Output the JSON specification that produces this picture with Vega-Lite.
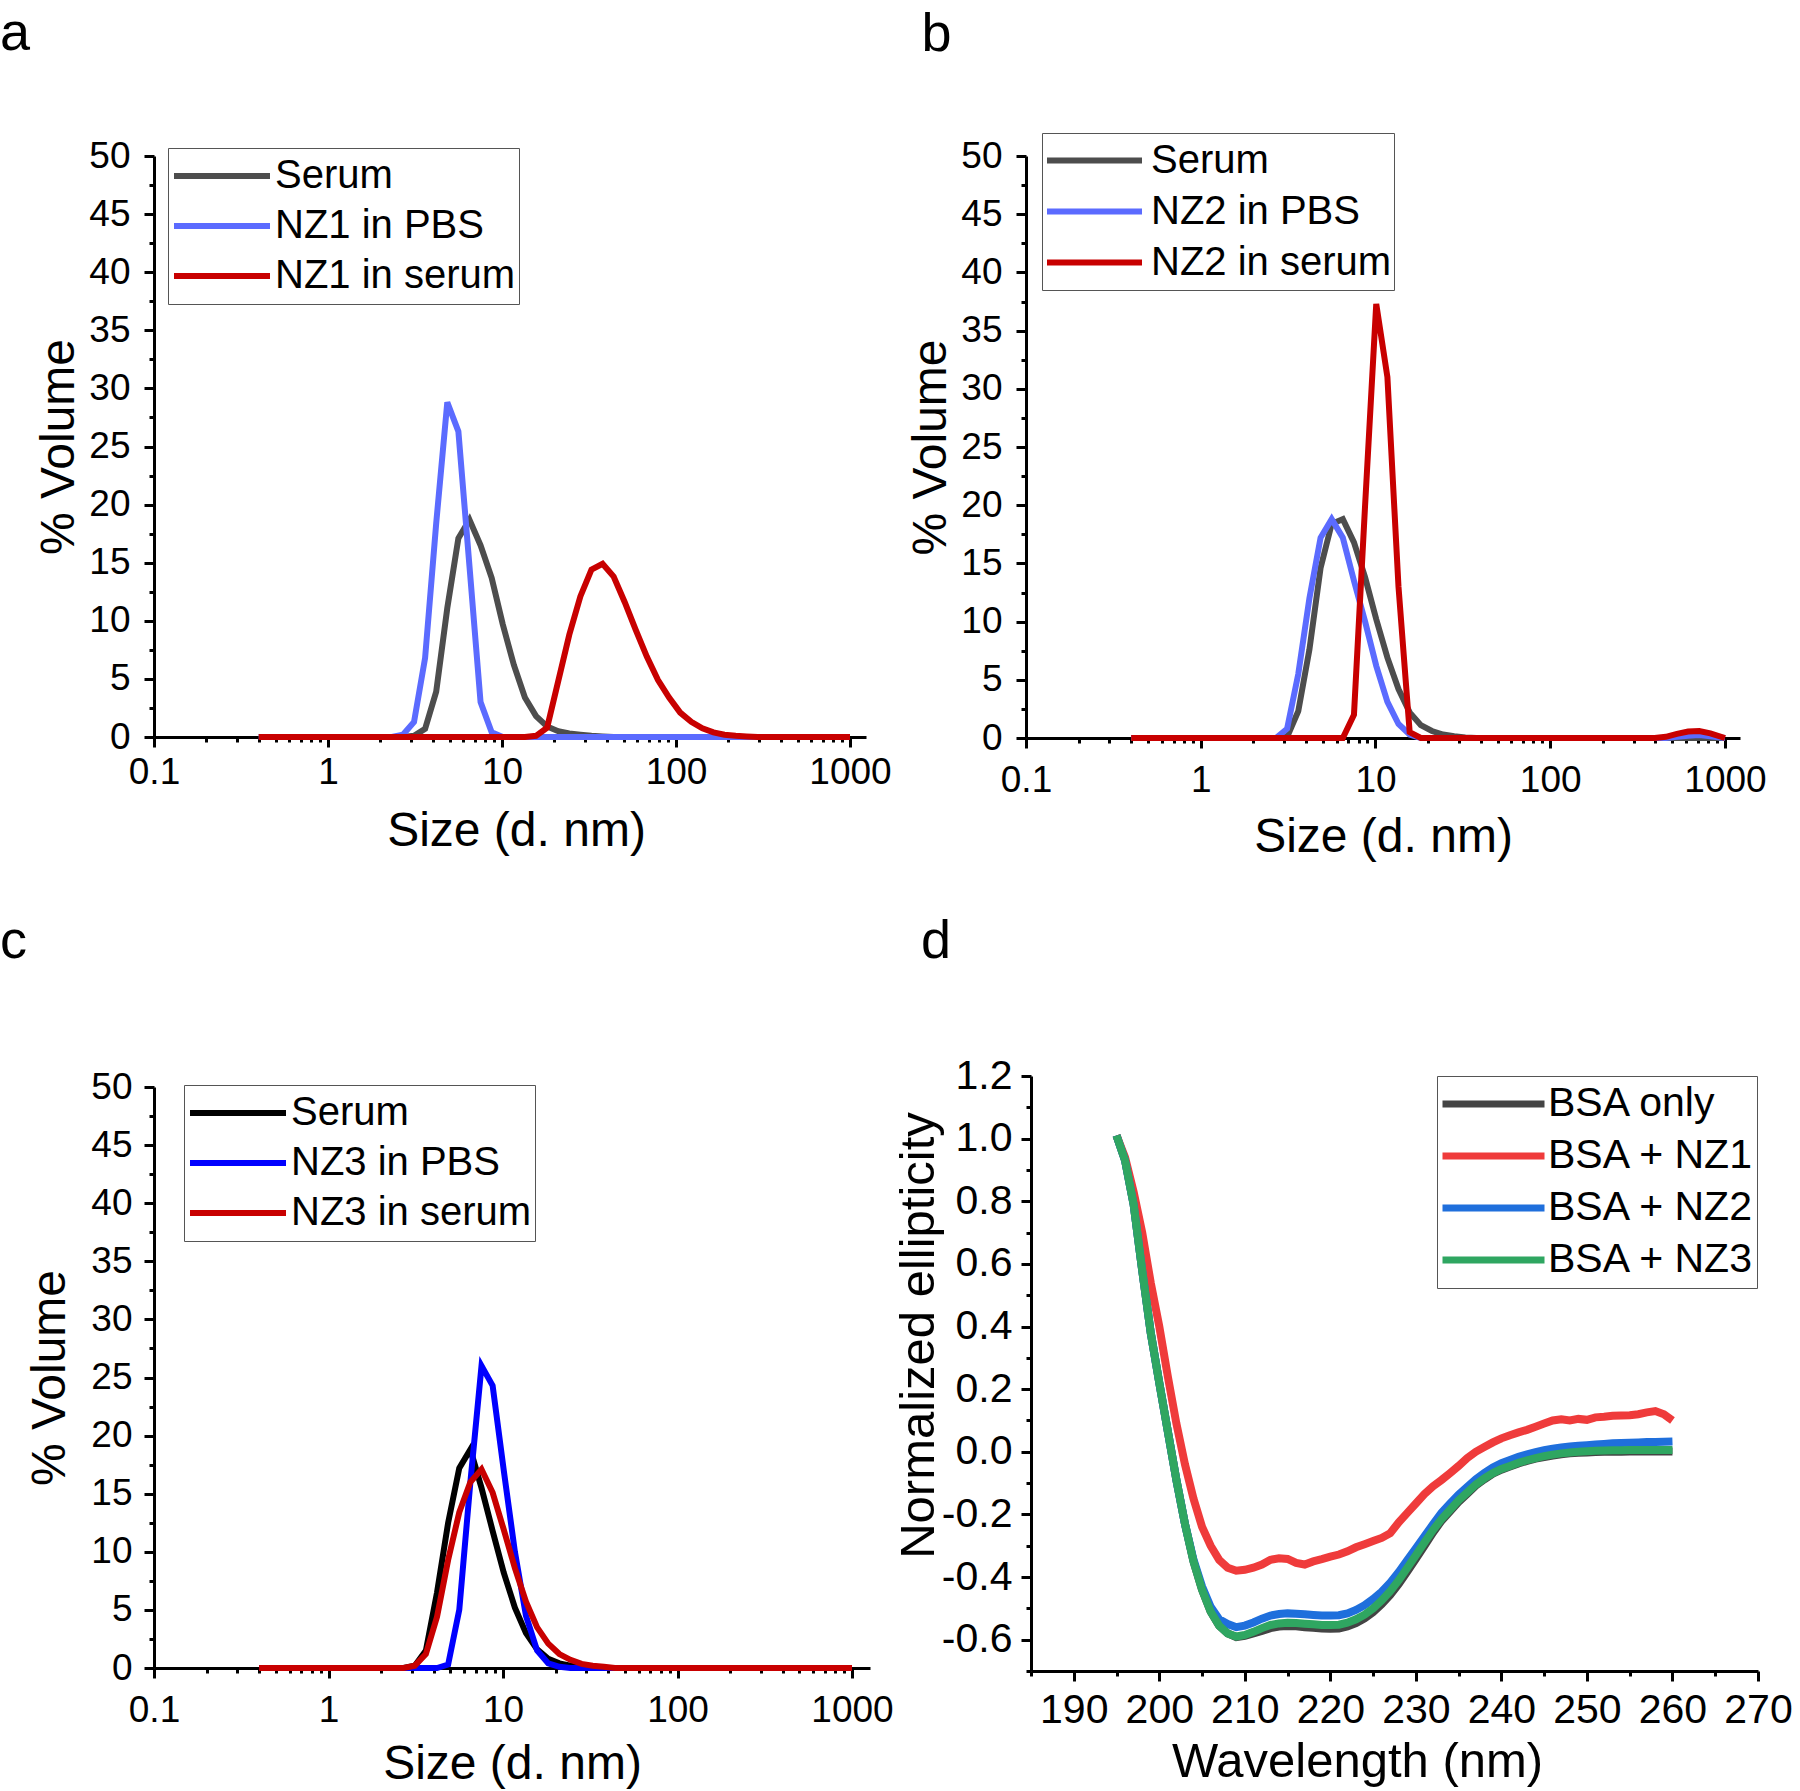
{
  "$schema": "https://vega.github.io/schema/vega-lite/v6.json",
  "padding": {"top": 7, "left": 0, "right": 0, "bottom": 0},
  "background": "white",
  "columns": 2,
  "spacing": {"row": 338, "column": 153},
  "bounds": "flush",
  "align": "none",
  "resolve": {"scale": {"color": "independent", "x": "independent", "y": "independent"}, "legend": {"color": "independent"}},
  "config": {
    "font": "Liberation Sans",
    "view": {"stroke": null},
    "axis": {"domainColor": "black", "domainWidth": 3, "tickColor": "black", "tickWidth": 3, "labelColor": "black", "titleColor": "black", "labelFont": "Liberation Sans", "titleFont": "Liberation Sans", "titleFontWeight": "normal", "labelFlush": false, "labelOverlap": false, "grid": false},
    "legend": {"labelFont": "Liberation Sans", "labelColor": "black", "strokeColor": "#555555", "fillColor": "white", "symbolType": "stroke", "direction": "vertical", "orient": "none", "rowPadding": 0, "labelLimit": 500, "title": null},
    "title": {"font": "Liberation Sans", "fontWeight": "normal", "color": "black", "fontSize": 54, "anchor": "start", "frame": "group", "baseline": "alphabetic"}
  },
  "datasets": {
    "a": [
      {"x":0.4,"y":0,"s":"Serum"},{"x":2.696,"y":0,"s":"Serum"},{"x":3.122,"y":0.1,"s":"Serum"},{"x":3.615,"y":0.7,"s":"Serum"},{"x":4.187,"y":3.9,"s":"Serum"},{"x":4.849,"y":11.1,"s":"Serum"},{"x":5.615,"y":17.1,"s":"Serum"},{"x":6.503,"y":18.7,"s":"Serum"},{"x":7.531,"y":16.5,"s":"Serum"},{"x":8.721,"y":13.7,"s":"Serum"},{"x":10.1,"y":9.7,"s":"Serum"},{"x":11.7,"y":6.2,"s":"Serum"},{"x":13.54,"y":3.4,"s":"Serum"},{"x":15.69,"y":1.8,"s":"Serum"},{"x":18.17,"y":0.9,"s":"Serum"},{"x":21.04,"y":0.5,"s":"Serum"},{"x":24.36,"y":0.3,"s":"Serum"},{"x":28.21,"y":0.2,"s":"Serum"},{"x":32.67,"y":0.1,"s":"Serum"},{"x":37.84,"y":0.05,"s":"Serum"},{"x":43.82,"y":0,"s":"Serum"},{"x":1000,"y":0,"s":"Serum"},
      {"x":0.4,"y":0,"s":"NZ1 in PBS"},{"x":2.328,"y":0,"s":"NZ1 in PBS"},{"x":2.696,"y":0.2,"s":"NZ1 in PBS"},{"x":3.122,"y":1.3,"s":"NZ1 in PBS"},{"x":3.615,"y":6.8,"s":"NZ1 in PBS"},{"x":4.187,"y":18.4,"s":"NZ1 in PBS"},{"x":4.849,"y":28.8,"s":"NZ1 in PBS"},{"x":5.615,"y":26.3,"s":"NZ1 in PBS"},{"x":6.503,"y":14.7,"s":"NZ1 in PBS"},{"x":7.531,"y":3.0,"s":"NZ1 in PBS"},{"x":8.721,"y":0.4,"s":"NZ1 in PBS"},{"x":10.1,"y":0,"s":"NZ1 in PBS"},{"x":1000,"y":0,"s":"NZ1 in PBS"},
      {"x":0.4,"y":0,"s":"NZ1 in serum"},{"x":13.54,"y":0,"s":"NZ1 in serum"},{"x":15.69,"y":0.1,"s":"NZ1 in serum"},{"x":18.17,"y":0.8,"s":"NZ1 in serum"},{"x":21.04,"y":4.8,"s":"NZ1 in serum"},{"x":24.36,"y":8.8,"s":"NZ1 in serum"},{"x":28.21,"y":12.1,"s":"NZ1 in serum"},{"x":32.67,"y":14.4,"s":"NZ1 in serum"},{"x":37.84,"y":14.9,"s":"NZ1 in serum"},{"x":43.82,"y":13.8,"s":"NZ1 in serum"},{"x":50.75,"y":11.6,"s":"NZ1 in serum"},{"x":58.77,"y":9.2,"s":"NZ1 in serum"},{"x":68.06,"y":6.9,"s":"NZ1 in serum"},{"x":78.82,"y":4.9,"s":"NZ1 in serum"},{"x":91.28,"y":3.4,"s":"NZ1 in serum"},{"x":105.7,"y":2.1,"s":"NZ1 in serum"},{"x":122.4,"y":1.3,"s":"NZ1 in serum"},{"x":141.8,"y":0.75,"s":"NZ1 in serum"},{"x":164.2,"y":0.4,"s":"NZ1 in serum"},{"x":190.1,"y":0.2,"s":"NZ1 in serum"},{"x":220.2,"y":0.1,"s":"NZ1 in serum"},{"x":255,"y":0.05,"s":"NZ1 in serum"},{"x":295.3,"y":0,"s":"NZ1 in serum"},{"x":1000,"y":0,"s":"NZ1 in serum"}
    ],
    "b": [
      {"x":0.4,"y":0,"s":"Serum"},{"x":2.696,"y":0,"s":"Serum"},{"x":3.122,"y":0.1,"s":"Serum"},{"x":3.615,"y":2.3,"s":"Serum"},{"x":4.187,"y":7.6,"s":"Serum"},{"x":4.849,"y":14.6,"s":"Serum"},{"x":5.615,"y":18.4,"s":"Serum"},{"x":6.503,"y":18.8,"s":"Serum"},{"x":7.531,"y":16.8,"s":"Serum"},{"x":8.721,"y":13.8,"s":"Serum"},{"x":10.1,"y":10.2,"s":"Serum"},{"x":11.7,"y":6.9,"s":"Serum"},{"x":13.54,"y":4.2,"s":"Serum"},{"x":15.69,"y":2.2,"s":"Serum"},{"x":18.17,"y":1.1,"s":"Serum"},{"x":21.04,"y":0.6,"s":"Serum"},{"x":24.36,"y":0.3,"s":"Serum"},{"x":28.21,"y":0.15,"s":"Serum"},{"x":32.67,"y":0.05,"s":"Serum"},{"x":37.84,"y":0,"s":"Serum"},{"x":1000,"y":0,"s":"Serum"},
      {"x":0.4,"y":0,"s":"NZ2 in PBS"},{"x":2.696,"y":0,"s":"NZ2 in PBS"},{"x":3.122,"y":0.8,"s":"NZ2 in PBS"},{"x":3.615,"y":5.5,"s":"NZ2 in PBS"},{"x":4.187,"y":12,"s":"NZ2 in PBS"},{"x":4.849,"y":17.2,"s":"NZ2 in PBS"},{"x":5.615,"y":18.8,"s":"NZ2 in PBS"},{"x":6.503,"y":17.2,"s":"NZ2 in PBS"},{"x":7.531,"y":13.5,"s":"NZ2 in PBS"},{"x":8.721,"y":10.0,"s":"NZ2 in PBS"},{"x":10.1,"y":6.2,"s":"NZ2 in PBS"},{"x":11.7,"y":3.1,"s":"NZ2 in PBS"},{"x":13.54,"y":1.2,"s":"NZ2 in PBS"},{"x":15.69,"y":0.3,"s":"NZ2 in PBS"},{"x":18.17,"y":0,"s":"NZ2 in PBS"},{"x":458.7,"y":0,"s":"NZ2 in PBS"},{"x":531.2,"y":0.1,"s":"NZ2 in PBS"},{"x":615.1,"y":0.2,"s":"NZ2 in PBS"},{"x":712.4,"y":0.25,"s":"NZ2 in PBS"},{"x":825,"y":0.15,"s":"NZ2 in PBS"},{"x":1000,"y":0,"s":"NZ2 in PBS"},
      {"x":0.4,"y":0,"s":"NZ2 in serum"},{"x":6.503,"y":0,"s":"NZ2 in serum"},{"x":7.531,"y":2.0,"s":"NZ2 in serum"},{"x":8.721,"y":20,"s":"NZ2 in serum"},{"x":10.1,"y":37.3,"s":"NZ2 in serum"},{"x":11.7,"y":31,"s":"NZ2 in serum"},{"x":13.54,"y":13,"s":"NZ2 in serum"},{"x":15.69,"y":0.5,"s":"NZ2 in serum"},{"x":18.17,"y":0,"s":"NZ2 in serum"},{"x":396.1,"y":0,"s":"NZ2 in serum"},{"x":458.7,"y":0.1,"s":"NZ2 in serum"},{"x":531.2,"y":0.35,"s":"NZ2 in serum"},{"x":615.1,"y":0.55,"s":"NZ2 in serum"},{"x":712.4,"y":0.6,"s":"NZ2 in serum"},{"x":825,"y":0.4,"s":"NZ2 in serum"},{"x":1000,"y":0,"s":"NZ2 in serum"}
    ],
    "c": [
      {"x":0.4,"y":0,"s":"Serum"},{"x":2.696,"y":0,"s":"Serum"},{"x":3.122,"y":0.2,"s":"Serum"},{"x":3.615,"y":1.5,"s":"Serum"},{"x":4.187,"y":6.5,"s":"Serum"},{"x":4.849,"y":12.5,"s":"Serum"},{"x":5.615,"y":17.2,"s":"Serum"},{"x":6.503,"y":18.8,"s":"Serum"},{"x":7.531,"y":15.5,"s":"Serum"},{"x":8.721,"y":11.8,"s":"Serum"},{"x":10.1,"y":8.2,"s":"Serum"},{"x":11.7,"y":5.2,"s":"Serum"},{"x":13.54,"y":3.0,"s":"Serum"},{"x":15.69,"y":1.6,"s":"Serum"},{"x":18.17,"y":0.8,"s":"Serum"},{"x":21.04,"y":0.4,"s":"Serum"},{"x":24.36,"y":0.2,"s":"Serum"},{"x":28.21,"y":0.1,"s":"Serum"},{"x":32.67,"y":0,"s":"Serum"},{"x":1000,"y":0,"s":"Serum"},
      {"x":0.4,"y":0,"s":"NZ3 in PBS"},{"x":4.187,"y":0,"s":"NZ3 in PBS"},{"x":4.849,"y":0.3,"s":"NZ3 in PBS"},{"x":5.615,"y":5,"s":"NZ3 in PBS"},{"x":6.503,"y":16,"s":"NZ3 in PBS"},{"x":7.531,"y":26,"s":"NZ3 in PBS"},{"x":8.721,"y":24.3,"s":"NZ3 in PBS"},{"x":10.1,"y":17,"s":"NZ3 in PBS"},{"x":11.7,"y":10,"s":"NZ3 in PBS"},{"x":13.54,"y":4.5,"s":"NZ3 in PBS"},{"x":15.69,"y":1.5,"s":"NZ3 in PBS"},{"x":18.17,"y":0.4,"s":"NZ3 in PBS"},{"x":21.04,"y":0.1,"s":"NZ3 in PBS"},{"x":24.36,"y":0,"s":"NZ3 in PBS"},{"x":1000,"y":0,"s":"NZ3 in PBS"},
      {"x":0.4,"y":0,"s":"NZ3 in serum"},{"x":2.696,"y":0,"s":"NZ3 in serum"},{"x":3.122,"y":0.2,"s":"NZ3 in serum"},{"x":3.615,"y":1.2,"s":"NZ3 in serum"},{"x":4.187,"y":4.4,"s":"NZ3 in serum"},{"x":4.849,"y":9.3,"s":"NZ3 in serum"},{"x":5.615,"y":13.4,"s":"NZ3 in serum"},{"x":6.503,"y":16.0,"s":"NZ3 in serum"},{"x":7.531,"y":17.1,"s":"NZ3 in serum"},{"x":8.721,"y":15.1,"s":"NZ3 in serum"},{"x":10.1,"y":11.9,"s":"NZ3 in serum"},{"x":11.7,"y":8.6,"s":"NZ3 in serum"},{"x":13.54,"y":5.7,"s":"NZ3 in serum"},{"x":15.69,"y":3.5,"s":"NZ3 in serum"},{"x":18.17,"y":2.1,"s":"NZ3 in serum"},{"x":21.04,"y":1.2,"s":"NZ3 in serum"},{"x":24.36,"y":0.7,"s":"NZ3 in serum"},{"x":28.21,"y":0.35,"s":"NZ3 in serum"},{"x":32.67,"y":0.2,"s":"NZ3 in serum"},{"x":37.84,"y":0.1,"s":"NZ3 in serum"},{"x":43.82,"y":0,"s":"NZ3 in serum"},{"x":1000,"y":0,"s":"NZ3 in serum"}
    ],
    "d": [
      {"w":195,"v":1.01,"s":"BSA only"},{"w":196,"v":0.93,"s":"BSA only"},{"w":197,"v":0.79,"s":"BSA only"},{"w":198,"v":0.58,"s":"BSA only"},{"w":199,"v":0.38,"s":"BSA only"},{"w":200,"v":0.22,"s":"BSA only"},{"w":201,"v":0.065,"s":"BSA only"},{"w":202,"v":-0.09,"s":"BSA only"},{"w":203,"v":-0.23,"s":"BSA only"},{"w":204,"v":-0.35,"s":"BSA only"},{"w":205,"v":-0.44,"s":"BSA only"},{"w":206,"v":-0.51,"s":"BSA only"},{"w":207,"v":-0.555,"s":"BSA only"},{"w":208,"v":-0.58,"s":"BSA only"},{"w":209,"v":-0.592,"s":"BSA only"},{"w":210,"v":-0.588,"s":"BSA only"},{"w":211,"v":-0.58,"s":"BSA only"},{"w":212,"v":-0.572,"s":"BSA only"},{"w":213,"v":-0.563,"s":"BSA only"},{"w":214,"v":-0.558,"s":"BSA only"},{"w":215,"v":-0.556,"s":"BSA only"},{"w":216,"v":-0.557,"s":"BSA only"},{"w":217,"v":-0.56,"s":"BSA only"},{"w":218,"v":-0.562,"s":"BSA only"},{"w":219,"v":-0.564,"s":"BSA only"},{"w":220,"v":-0.565,"s":"BSA only"},{"w":221,"v":-0.564,"s":"BSA only"},{"w":222,"v":-0.558,"s":"BSA only"},{"w":223,"v":-0.547,"s":"BSA only"},{"w":224,"v":-0.532,"s":"BSA only"},{"w":225,"v":-0.512,"s":"BSA only"},{"w":226,"v":-0.487,"s":"BSA only"},{"w":227,"v":-0.457,"s":"BSA only"},{"w":228,"v":-0.422,"s":"BSA only"},{"w":229,"v":-0.382,"s":"BSA only"},{"w":230,"v":-0.342,"s":"BSA only"},{"w":231,"v":-0.3,"s":"BSA only"},{"w":232,"v":-0.258,"s":"BSA only"},{"w":233,"v":-0.22,"s":"BSA only"},{"w":234,"v":-0.19,"s":"BSA only"},{"w":235,"v":-0.16,"s":"BSA only"},{"w":236,"v":-0.134,"s":"BSA only"},{"w":237,"v":-0.108,"s":"BSA only"},{"w":238,"v":-0.088,"s":"BSA only"},{"w":239,"v":-0.07,"s":"BSA only"},{"w":240,"v":-0.057,"s":"BSA only"},{"w":241,"v":-0.047,"s":"BSA only"},{"w":242,"v":-0.037,"s":"BSA only"},{"w":243,"v":-0.029,"s":"BSA only"},{"w":244,"v":-0.022,"s":"BSA only"},{"w":245,"v":-0.017,"s":"BSA only"},{"w":246,"v":-0.012,"s":"BSA only"},{"w":247,"v":-0.008,"s":"BSA only"},{"w":248,"v":-0.005,"s":"BSA only"},{"w":249,"v":-0.003,"s":"BSA only"},{"w":250,"v":-0.002,"s":"BSA only"},{"w":251,"v":-0.001,"s":"BSA only"},{"w":252,"v":0,"s":"BSA only"},{"w":253,"v":0,"s":"BSA only"},{"w":254,"v":0,"s":"BSA only"},{"w":255,"v":0.001,"s":"BSA only"},{"w":256,"v":0.001,"s":"BSA only"},{"w":257,"v":0.001,"s":"BSA only"},{"w":258,"v":0.001,"s":"BSA only"},{"w":259,"v":0.001,"s":"BSA only"},{"w":260,"v":0.001,"s":"BSA only"},
      {"w":195,"v":1.01,"s":"BSA + NZ1"},{"w":196,"v":0.94,"s":"BSA + NZ1"},{"w":197,"v":0.83,"s":"BSA + NZ1"},{"w":198,"v":0.7,"s":"BSA + NZ1"},{"w":199,"v":0.54,"s":"BSA + NZ1"},{"w":200,"v":0.4,"s":"BSA + NZ1"},{"w":201,"v":0.24,"s":"BSA + NZ1"},{"w":202,"v":0.09,"s":"BSA + NZ1"},{"w":203,"v":-0.04,"s":"BSA + NZ1"},{"w":204,"v":-0.15,"s":"BSA + NZ1"},{"w":205,"v":-0.24,"s":"BSA + NZ1"},{"w":206,"v":-0.3,"s":"BSA + NZ1"},{"w":207,"v":-0.345,"s":"BSA + NZ1"},{"w":208,"v":-0.37,"s":"BSA + NZ1"},{"w":209,"v":-0.38,"s":"BSA + NZ1"},{"w":210,"v":-0.377,"s":"BSA + NZ1"},{"w":211,"v":-0.37,"s":"BSA + NZ1"},{"w":212,"v":-0.36,"s":"BSA + NZ1"},{"w":213,"v":-0.345,"s":"BSA + NZ1"},{"w":214,"v":-0.34,"s":"BSA + NZ1"},{"w":215,"v":-0.342,"s":"BSA + NZ1"},{"w":216,"v":-0.355,"s":"BSA + NZ1"},{"w":217,"v":-0.36,"s":"BSA + NZ1"},{"w":218,"v":-0.35,"s":"BSA + NZ1"},{"w":219,"v":-0.343,"s":"BSA + NZ1"},{"w":220,"v":-0.335,"s":"BSA + NZ1"},{"w":221,"v":-0.328,"s":"BSA + NZ1"},{"w":222,"v":-0.318,"s":"BSA + NZ1"},{"w":223,"v":-0.305,"s":"BSA + NZ1"},{"w":224,"v":-0.295,"s":"BSA + NZ1"},{"w":225,"v":-0.285,"s":"BSA + NZ1"},{"w":226,"v":-0.275,"s":"BSA + NZ1"},{"w":227,"v":-0.26,"s":"BSA + NZ1"},{"w":228,"v":-0.225,"s":"BSA + NZ1"},{"w":229,"v":-0.195,"s":"BSA + NZ1"},{"w":230,"v":-0.165,"s":"BSA + NZ1"},{"w":231,"v":-0.135,"s":"BSA + NZ1"},{"w":232,"v":-0.11,"s":"BSA + NZ1"},{"w":233,"v":-0.09,"s":"BSA + NZ1"},{"w":234,"v":-0.068,"s":"BSA + NZ1"},{"w":235,"v":-0.045,"s":"BSA + NZ1"},{"w":236,"v":-0.02,"s":"BSA + NZ1"},{"w":237,"v":0,"s":"BSA + NZ1"},{"w":238,"v":0.015,"s":"BSA + NZ1"},{"w":239,"v":0.03,"s":"BSA + NZ1"},{"w":240,"v":0.043,"s":"BSA + NZ1"},{"w":241,"v":0.053,"s":"BSA + NZ1"},{"w":242,"v":0.062,"s":"BSA + NZ1"},{"w":243,"v":0.07,"s":"BSA + NZ1"},{"w":244,"v":0.08,"s":"BSA + NZ1"},{"w":245,"v":0.09,"s":"BSA + NZ1"},{"w":246,"v":0.1,"s":"BSA + NZ1"},{"w":247,"v":0.104,"s":"BSA + NZ1"},{"w":248,"v":0.1,"s":"BSA + NZ1"},{"w":249,"v":0.105,"s":"BSA + NZ1"},{"w":250,"v":0.102,"s":"BSA + NZ1"},{"w":251,"v":0.11,"s":"BSA + NZ1"},{"w":252,"v":0.112,"s":"BSA + NZ1"},{"w":253,"v":0.115,"s":"BSA + NZ1"},{"w":254,"v":0.116,"s":"BSA + NZ1"},{"w":255,"v":0.117,"s":"BSA + NZ1"},{"w":256,"v":0.12,"s":"BSA + NZ1"},{"w":257,"v":0.126,"s":"BSA + NZ1"},{"w":258,"v":0.13,"s":"BSA + NZ1"},{"w":259,"v":0.12,"s":"BSA + NZ1"},{"w":260,"v":0.1,"s":"BSA + NZ1"},
      {"w":195,"v":1.01,"s":"BSA + NZ2"},{"w":196,"v":0.93,"s":"BSA + NZ2"},{"w":197,"v":0.79,"s":"BSA + NZ2"},{"w":198,"v":0.58,"s":"BSA + NZ2"},{"w":199,"v":0.38,"s":"BSA + NZ2"},{"w":200,"v":0.22,"s":"BSA + NZ2"},{"w":201,"v":0.065,"s":"BSA + NZ2"},{"w":202,"v":-0.09,"s":"BSA + NZ2"},{"w":203,"v":-0.23,"s":"BSA + NZ2"},{"w":204,"v":-0.345,"s":"BSA + NZ2"},{"w":205,"v":-0.43,"s":"BSA + NZ2"},{"w":206,"v":-0.495,"s":"BSA + NZ2"},{"w":207,"v":-0.535,"s":"BSA + NZ2"},{"w":208,"v":-0.55,"s":"BSA + NZ2"},{"w":209,"v":-0.56,"s":"BSA + NZ2"},{"w":210,"v":-0.555,"s":"BSA + NZ2"},{"w":211,"v":-0.545,"s":"BSA + NZ2"},{"w":212,"v":-0.533,"s":"BSA + NZ2"},{"w":213,"v":-0.523,"s":"BSA + NZ2"},{"w":214,"v":-0.518,"s":"BSA + NZ2"},{"w":215,"v":-0.516,"s":"BSA + NZ2"},{"w":216,"v":-0.517,"s":"BSA + NZ2"},{"w":217,"v":-0.519,"s":"BSA + NZ2"},{"w":218,"v":-0.521,"s":"BSA + NZ2"},{"w":219,"v":-0.523,"s":"BSA + NZ2"},{"w":220,"v":-0.523,"s":"BSA + NZ2"},{"w":221,"v":-0.522,"s":"BSA + NZ2"},{"w":222,"v":-0.516,"s":"BSA + NZ2"},{"w":223,"v":-0.505,"s":"BSA + NZ2"},{"w":224,"v":-0.49,"s":"BSA + NZ2"},{"w":225,"v":-0.47,"s":"BSA + NZ2"},{"w":226,"v":-0.447,"s":"BSA + NZ2"},{"w":227,"v":-0.418,"s":"BSA + NZ2"},{"w":228,"v":-0.384,"s":"BSA + NZ2"},{"w":229,"v":-0.346,"s":"BSA + NZ2"},{"w":230,"v":-0.308,"s":"BSA + NZ2"},{"w":231,"v":-0.27,"s":"BSA + NZ2"},{"w":232,"v":-0.232,"s":"BSA + NZ2"},{"w":233,"v":-0.195,"s":"BSA + NZ2"},{"w":234,"v":-0.165,"s":"BSA + NZ2"},{"w":235,"v":-0.137,"s":"BSA + NZ2"},{"w":236,"v":-0.112,"s":"BSA + NZ2"},{"w":237,"v":-0.088,"s":"BSA + NZ2"},{"w":238,"v":-0.068,"s":"BSA + NZ2"},{"w":239,"v":-0.05,"s":"BSA + NZ2"},{"w":240,"v":-0.036,"s":"BSA + NZ2"},{"w":241,"v":-0.026,"s":"BSA + NZ2"},{"w":242,"v":-0.016,"s":"BSA + NZ2"},{"w":243,"v":-0.008,"s":"BSA + NZ2"},{"w":244,"v":-0.001,"s":"BSA + NZ2"},{"w":245,"v":0.005,"s":"BSA + NZ2"},{"w":246,"v":0.01,"s":"BSA + NZ2"},{"w":247,"v":0.014,"s":"BSA + NZ2"},{"w":248,"v":0.017,"s":"BSA + NZ2"},{"w":249,"v":0.019,"s":"BSA + NZ2"},{"w":250,"v":0.021,"s":"BSA + NZ2"},{"w":251,"v":0.023,"s":"BSA + NZ2"},{"w":252,"v":0.025,"s":"BSA + NZ2"},{"w":253,"v":0.027,"s":"BSA + NZ2"},{"w":254,"v":0.028,"s":"BSA + NZ2"},{"w":255,"v":0.029,"s":"BSA + NZ2"},{"w":256,"v":0.03,"s":"BSA + NZ2"},{"w":257,"v":0.031,"s":"BSA + NZ2"},{"w":258,"v":0.031,"s":"BSA + NZ2"},{"w":259,"v":0.032,"s":"BSA + NZ2"},{"w":260,"v":0.033,"s":"BSA + NZ2"},
      {"w":195,"v":1.01,"s":"BSA + NZ3"},{"w":196,"v":0.93,"s":"BSA + NZ3"},{"w":197,"v":0.79,"s":"BSA + NZ3"},{"w":198,"v":0.58,"s":"BSA + NZ3"},{"w":199,"v":0.38,"s":"BSA + NZ3"},{"w":200,"v":0.22,"s":"BSA + NZ3"},{"w":201,"v":0.065,"s":"BSA + NZ3"},{"w":202,"v":-0.09,"s":"BSA + NZ3"},{"w":203,"v":-0.23,"s":"BSA + NZ3"},{"w":204,"v":-0.35,"s":"BSA + NZ3"},{"w":205,"v":-0.44,"s":"BSA + NZ3"},{"w":206,"v":-0.51,"s":"BSA + NZ3"},{"w":207,"v":-0.555,"s":"BSA + NZ3"},{"w":208,"v":-0.58,"s":"BSA + NZ3"},{"w":209,"v":-0.59,"s":"BSA + NZ3"},{"w":210,"v":-0.585,"s":"BSA + NZ3"},{"w":211,"v":-0.575,"s":"BSA + NZ3"},{"w":212,"v":-0.563,"s":"BSA + NZ3"},{"w":213,"v":-0.553,"s":"BSA + NZ3"},{"w":214,"v":-0.548,"s":"BSA + NZ3"},{"w":215,"v":-0.546,"s":"BSA + NZ3"},{"w":216,"v":-0.547,"s":"BSA + NZ3"},{"w":217,"v":-0.549,"s":"BSA + NZ3"},{"w":218,"v":-0.551,"s":"BSA + NZ3"},{"w":219,"v":-0.553,"s":"BSA + NZ3"},{"w":220,"v":-0.553,"s":"BSA + NZ3"},{"w":221,"v":-0.552,"s":"BSA + NZ3"},{"w":222,"v":-0.546,"s":"BSA + NZ3"},{"w":223,"v":-0.535,"s":"BSA + NZ3"},{"w":224,"v":-0.52,"s":"BSA + NZ3"},{"w":225,"v":-0.5,"s":"BSA + NZ3"},{"w":226,"v":-0.475,"s":"BSA + NZ3"},{"w":227,"v":-0.445,"s":"BSA + NZ3"},{"w":228,"v":-0.41,"s":"BSA + NZ3"},{"w":229,"v":-0.37,"s":"BSA + NZ3"},{"w":230,"v":-0.33,"s":"BSA + NZ3"},{"w":231,"v":-0.29,"s":"BSA + NZ3"},{"w":232,"v":-0.25,"s":"BSA + NZ3"},{"w":233,"v":-0.215,"s":"BSA + NZ3"},{"w":234,"v":-0.185,"s":"BSA + NZ3"},{"w":235,"v":-0.155,"s":"BSA + NZ3"},{"w":236,"v":-0.13,"s":"BSA + NZ3"},{"w":237,"v":-0.105,"s":"BSA + NZ3"},{"w":238,"v":-0.085,"s":"BSA + NZ3"},{"w":239,"v":-0.068,"s":"BSA + NZ3"},{"w":240,"v":-0.055,"s":"BSA + NZ3"},{"w":241,"v":-0.045,"s":"BSA + NZ3"},{"w":242,"v":-0.035,"s":"BSA + NZ3"},{"w":243,"v":-0.027,"s":"BSA + NZ3"},{"w":244,"v":-0.02,"s":"BSA + NZ3"},{"w":245,"v":-0.014,"s":"BSA + NZ3"},{"w":246,"v":-0.009,"s":"BSA + NZ3"},{"w":247,"v":-0.005,"s":"BSA + NZ3"},{"w":248,"v":-0.002,"s":"BSA + NZ3"},{"w":249,"v":0,"s":"BSA + NZ3"},{"w":250,"v":0.002,"s":"BSA + NZ3"},{"w":251,"v":0.003,"s":"BSA + NZ3"},{"w":252,"v":0.004,"s":"BSA + NZ3"},{"w":253,"v":0.005,"s":"BSA + NZ3"},{"w":254,"v":0.005,"s":"BSA + NZ3"},{"w":255,"v":0.006,"s":"BSA + NZ3"},{"w":256,"v":0.006,"s":"BSA + NZ3"},{"w":257,"v":0.006,"s":"BSA + NZ3"},{"w":258,"v":0.006,"s":"BSA + NZ3"},{"w":259,"v":0.006,"s":"BSA + NZ3"},{"w":260,"v":0.006,"s":"BSA + NZ3"}
    ]
  },
  "concat": [
    {
      "width": 712, "height": 581,
      "title": {"text": "a", "dx": -154, "offset": 75.7},
      "data": {"name": "a"},
      "mark": {"type": "line", "strokeWidth": 6},
      "encoding": {
        "x": {"field": "x", "type": "quantitative", "scale": {"type": "log", "domain": [0.1, 1236], "nice": false},
          "axis": {"title": "Size (d. nm)", "values": [0.1,0.2,0.3,0.4,0.5,0.6,0.7,0.8,0.9,1,2,3,4,5,6,7,8,9,10,20,30,40,50,60,70,80,90,100,200,300,400,500,600,700,800,900,1000],
            "labelExpr": "indexof([0.1,1,10,100,1000], datum.value) >= 0 ? format(datum.value, '~g') : ''",
            "tickSize": {"condition": {"test": "indexof([0.1,1,10,100,1000], datum.value) < 0", "value": 5}, "value": 10},
            "labelFontSize": 37, "titleFontSize": 48, "labelPadding": 7, "titlePadding": 17, "titleX": 362}},
        "y": {"field": "y", "type": "quantitative", "scale": {"domain": [0, 50], "nice": false, "zero": false},
          "axis": {"title": "% Volume", "values": [0,2.5,5,7.5,10,12.5,15,17.5,20,22.5,25,27.5,30,32.5,35,37.5,40,42.5,45,47.5,50],
            "labelExpr": "datum.value % 5 == 0 ? format(datum.value, 'd') : ''",
            "tickSize": {"condition": {"test": "datum.value % 5 != 0", "value": 5}, "value": 10},
            "labelFontSize": 37, "titleFontSize": 48, "labelPadding": 14, "titlePadding": 5.5}},
        "color": {"field": "s", "type": "nominal",
          "scale": {"domain": ["Serum", "NZ1 in PBS", "NZ1 in serum"], "range": ["#4d4d4d", "#5b6bff", "#c80000"]},
          "legend": {"legendX": 14, "legendY": -8, "symbolSize": 9216, "symbolStrokeWidth": 6, "clipHeight": 50, "padding": 3, "labelFontSize": 40, "labelOffset": 2}}
      }
    },
    {
      "width": 714, "height": 582,
      "title": {"text": "b", "dx": -109.5, "offset": 70.2},
      "data": {"name": "b"},
      "mark": {"type": "line", "strokeWidth": 6},
      "encoding": {
        "x": {"field": "x", "type": "quantitative", "scale": {"type": "log", "domain": [0.1, 1219], "nice": false, "range": [-5, 709]},
          "axis": {"title": "Size (d. nm)", "values": [0.1,0.2,0.3,0.4,0.5,0.6,0.7,0.8,0.9,1,2,3,4,5,6,7,8,9,10,20,30,40,50,60,70,80,90,100,200,300,400,500,600,700,800,900,1000],
            "labelExpr": "indexof([0.1,1,10,100,1000], datum.value) >= 0 ? format(datum.value, '~g') : ''",
            "tickSize": {"condition": {"test": "indexof([0.1,1,10,100,1000], datum.value) < 0", "value": 5}, "value": 10},
            "labelFontSize": 37, "titleFontSize": 48, "labelPadding": 14.6, "titlePadding": 14.4}},
        "y": {"field": "y", "type": "quantitative", "scale": {"domain": [0, 50], "nice": false, "zero": false},
          "axis": {"title": "% Volume", "offset": 5, "values": [0,2.5,5,7.5,10,12.5,15,17.5,20,22.5,25,27.5,30,32.5,35,37.5,40,42.5,45,47.5,50],
            "labelExpr": "datum.value % 5 == 0 ? format(datum.value, 'd') : ''",
            "tickSize": {"condition": {"test": "datum.value % 5 != 0", "value": 5}, "value": 10},
            "labelFontSize": 37, "titleFontSize": 48, "labelPadding": 14, "titlePadding": 5}},
        "color": {"field": "s", "type": "nominal",
          "scale": {"domain": ["Serum", "NZ2 in PBS", "NZ2 in serum"], "range": ["#4d4d4d", "#5b6bff", "#c80000"]},
          "legend": {"legendX": 11, "legendY": -23, "symbolSize": 9025, "symbolStrokeWidth": 6, "clipHeight": 51, "padding": 2, "labelFontSize": 40, "labelOffset": 6}}
      }
    },
    {
      "width": 724, "height": 592,
      "title": {"text": "c", "dx": -154, "offset": 99},
      "data": {"name": "c"},
      "mark": {"type": "line", "strokeWidth": 6},
      "encoding": {
        "x": {"field": "x", "type": "quantitative", "scale": {"type": "log", "domain": [0.1, 1268], "nice": false, "range": [0, 716]},
          "axis": {"title": "Size (d. nm)", "values": [0.1,0.2,0.3,0.4,0.5,0.6,0.7,0.8,0.9,1,2,3,4,5,6,7,8,9,10,20,30,40,50,60,70,80,90,100,200,300,400,500,600,700,800,900,1000],
            "labelExpr": "indexof([0.1,1,10,100,1000], datum.value) >= 0 ? format(datum.value, '~g') : ''",
            "tickSize": {"condition": {"test": "indexof([0.1,1,10,100,1000], datum.value) < 0", "value": 5}, "value": 10},
            "labelFontSize": 37, "titleFontSize": 48, "labelPadding": 14.6, "titlePadding": 11.7}},
        "y": {"field": "y", "type": "quantitative", "scale": {"domain": [0, 50], "nice": false, "zero": false, "range": [592, 11]},
          "axis": {"title": "% Volume", "values": [0,2.5,5,7.5,10,12.5,15,17.5,20,22.5,25,27.5,30,32.5,35,37.5,40,42.5,45,47.5,50],
            "labelExpr": "datum.value % 5 == 0 ? format(datum.value, 'd') : ''",
            "tickSize": {"condition": {"test": "datum.value % 5 != 0", "value": 5}, "value": 10},
            "labelFontSize": 37, "titleFontSize": 48, "labelPadding": 12, "titlePadding": 16}},
        "color": {"field": "s", "type": "nominal",
          "scale": {"domain": ["Serum", "NZ3 in PBS", "NZ3 in serum"], "range": ["#000000", "#0000ff", "#c80000"]},
          "legend": {"legendX": 30, "legendY": 9, "symbolSize": 9216, "symbolStrokeWidth": 6, "clipHeight": 50, "padding": 3, "labelFontSize": 40, "labelOffset": 2}}
      }
    },
    {
      "width": 727, "height": 595,
      "title": {"text": "d", "dx": -110, "offset": 86},
      "data": {"name": "d"},
      "mark": {"type": "line", "strokeWidth": 8},
      "encoding": {
        "x": {"field": "w", "type": "quantitative", "scale": {"domain": [185, 270], "nice": false, "zero": false},
          "axis": {"title": "Wavelength (nm)", "values": [185,190,195,200,205,210,215,220,225,230,235,240,245,250,255,260,265,270],
            "labelExpr": "datum.value % 10 == 0 ? format(datum.value, 'd') : ''",
            "tickSize": {"condition": {"test": "datum.value % 10 != 0", "value": 5}, "value": 10},
            "labelFontSize": 41, "titleFontSize": 49, "labelPadding": 9.5, "titlePadding": 7, "titleX": 326}},
        "y": {"field": "v", "type": "quantitative", "scale": {"domain": [-0.7, 1.2], "nice": false, "zero": false},
          "axis": {"title": "Normalized ellipticity", "values": [-0.7,-0.6,-0.5,-0.4,-0.3,-0.2,-0.1,0,0.1,0.2,0.3,0.4,0.5,0.6,0.7,0.8,0.9,1.0,1.1,1.2],
            "labelExpr": "abs(round(datum.value*10)) % 2 == 0 ? replace(format(datum.value, '.1f'), '\u2212', '-') : ''",
            "tickSize": {"condition": {"test": "abs(round(datum.value*10)) % 2 != 0", "value": 5}, "value": 10},
            "labelFontSize": 41, "titleFontSize": 49, "labelPadding": 9, "titlePadding": -2.3, "titleY": 259}},
        "color": {"field": "s", "type": "nominal",
          "scale": {"domain": ["BSA only", "BSA + NZ1", "BSA + NZ2", "BSA + NZ3"], "range": ["#444444", "#ef3b3b", "#1f6fdc", "#2fa661"]},
          "legend": {"legendX": 406, "legendY": 0, "symbolSize": 10404, "symbolStrokeWidth": 7, "clipHeight": 52, "padding": 2, "labelFontSize": 41, "labelOffset": 0}}
      }
    }
  ]
}
